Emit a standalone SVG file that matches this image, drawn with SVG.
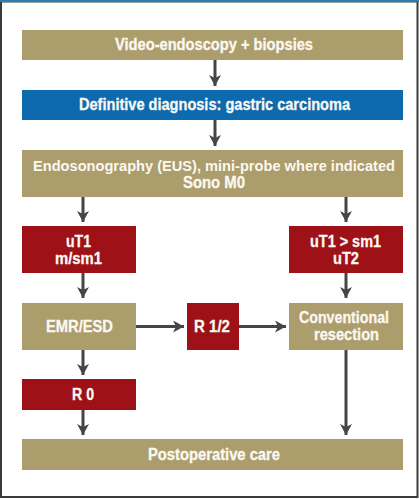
<svg xmlns="http://www.w3.org/2000/svg" width="419" height="499" viewBox="0 0 419 499">
<style>
.tan{fill:#ac9d6c}
.red{fill:#9d1117}
.blue{fill:#0d6aae}
text{font-family:"Liberation Sans",Arial,sans-serif;font-weight:bold;font-size:16px;fill:#fbf8f2;text-anchor:middle;stroke:#fbf8f2;stroke-width:0.3}
text.w{stroke:none;font-size:15px}
.c line{stroke:#454545;stroke-width:3}
</style>
<defs>
<marker id="ah" markerUnits="userSpaceOnUse" markerWidth="12" markerHeight="12" refX="11" refY="6" orient="auto">
<path d="M0,0 L11,6 L0,12 L3,6 Z" fill="#454545"/>
</marker>
</defs>
<rect x="0" y="0" width="419" height="499" fill="#ffffff"/>
<rect x="1" y="1.5" width="416.5" height="495.5" fill="none" stroke="#3a3a3a" stroke-width="2"/>
<line x1="0" y1="1" x2="419" y2="1" stroke="#2a7fb8" stroke-width="2"/>
<g class="c">
<line x1="215" y1="60" x2="215" y2="86" marker-end="url(#ah)"/>
<line x1="215" y1="120" x2="215" y2="146" marker-end="url(#ah)"/>
<line x1="83" y1="197" x2="83" y2="222" marker-end="url(#ah)"/>
<line x1="346" y1="197" x2="346" y2="222" marker-end="url(#ah)"/>
<line x1="83" y1="273" x2="83" y2="298" marker-end="url(#ah)"/>
<line x1="346" y1="273" x2="346" y2="298" marker-end="url(#ah)"/>
<line x1="136" y1="326.5" x2="184" y2="326.5" marker-end="url(#ah)"/>
<line x1="239" y1="326.5" x2="286" y2="326.5" marker-end="url(#ah)"/>
<line x1="83" y1="350" x2="83" y2="375" marker-end="url(#ah)"/>
<line x1="83" y1="410" x2="83" y2="435" marker-end="url(#ah)"/>
<line x1="346" y1="350" x2="346" y2="435" marker-end="url(#ah)"/>
</g>
<g id="n1"><rect class="tan" x="22" y="30" width="381" height="30"/><text x="214" y="50" textLength="198" lengthAdjust="spacingAndGlyphs">Video-endoscopy + biopsies</text></g>
<g id="n2"><rect class="blue" x="22" y="90" width="381" height="30"/><text x="214.5" y="110" textLength="271" lengthAdjust="spacingAndGlyphs">Definitive diagnosis: gastric carcinoma</text></g>
<g id="n3"><rect class="tan" x="22" y="150" width="381" height="47"/><text class="w" x="214" y="171" textLength="362" lengthAdjust="spacingAndGlyphs">Endosonography (EUS), mini-probe where indicated</text><text x="214" y="187.5" textLength="62" lengthAdjust="spacingAndGlyphs">Sono M0</text></g>
<g id="n4"><rect class="red" x="22" y="226" width="114" height="47"/><text x="78.5" y="247" textLength="25" lengthAdjust="spacingAndGlyphs">uT1</text><text x="78.5" y="263.5" textLength="47" lengthAdjust="spacingAndGlyphs">m/sm1</text></g>
<g id="n5"><rect class="red" x="289" y="226" width="114" height="47"/><text x="345.5" y="247" textLength="71" lengthAdjust="spacingAndGlyphs">uT1 &gt; sm1</text><text x="346" y="263.5" textLength="26" lengthAdjust="spacingAndGlyphs">uT2</text></g>
<g id="n6"><rect class="tan" x="22" y="303" width="114" height="47"/><text x="79.5" y="332" textLength="67" lengthAdjust="spacingAndGlyphs">EMR/ESD</text></g>
<g id="n7"><rect class="red" x="187" y="303" width="52" height="47"/><text x="212" y="331.5" textLength="36" lengthAdjust="spacingAndGlyphs">R 1/2</text></g>
<g id="n8"><rect class="tan" x="289" y="303" width="114" height="47"/><text x="344" y="323" textLength="90" lengthAdjust="spacingAndGlyphs">Conventional</text><text x="346.5" y="340" textLength="65" lengthAdjust="spacingAndGlyphs">resection</text></g>
<g id="n9"><rect class="red" x="22" y="379" width="114" height="31"/><text x="83" y="400" textLength="22" lengthAdjust="spacingAndGlyphs">R 0</text></g>
<g id="n10"><rect class="tan" x="22" y="439" width="381" height="31"/><text x="214" y="459.5" textLength="132" lengthAdjust="spacingAndGlyphs">Postoperative care</text></g>
</svg>
